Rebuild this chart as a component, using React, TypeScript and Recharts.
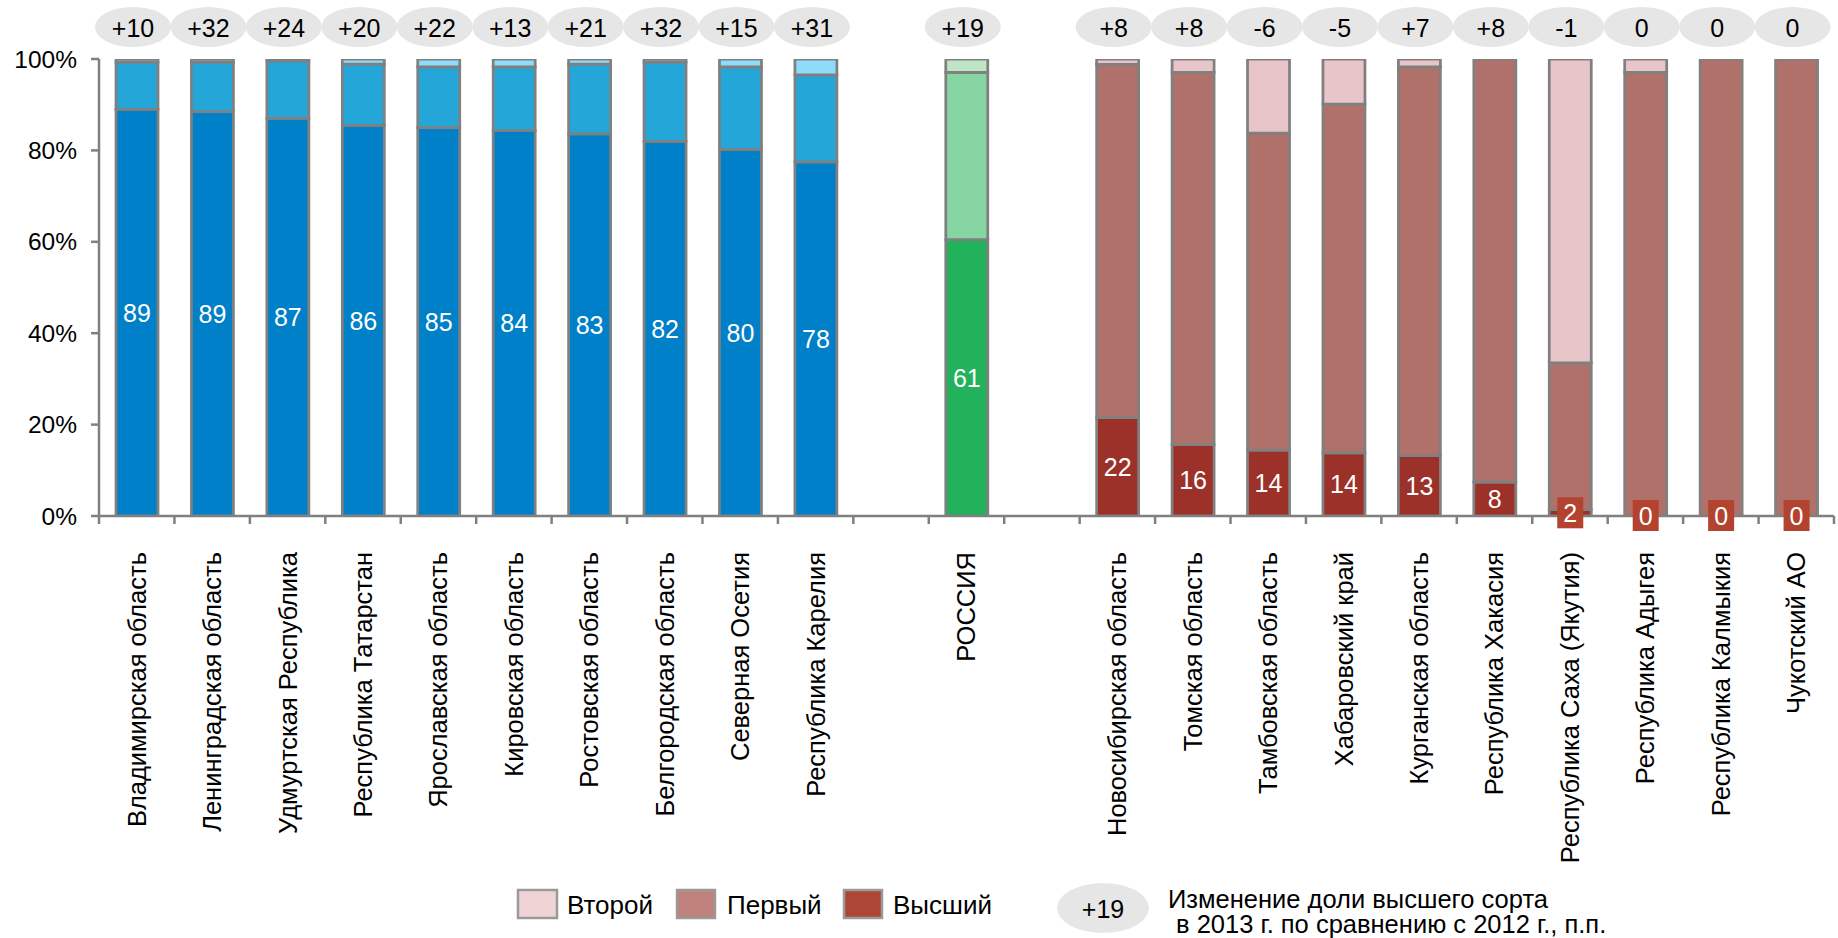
import { BarChart, Bar, XAxis, YAxis, Cell, LabelList } from "recharts";

const CATEGORIES = [
  "Владимирская область", "Ленинградская область", "Удмуртская Республика",
  "Республика Татарстан", "Ярославская область", "Кировская область",
  "Ростовская область", "Белгородская область", "Северная Осетия",
  "Республика Карелия", "", "РОССИЯ", "",
  "Новосибирская область", "Томская область", "Тамбовская область",
  "Хабаровский край", "Курганская область", "Республика Хакасия",
  "Республика Саха (Якутия)", "Республика Адыгея", "Республика Калмыкия",
  "Чукотский АО",
];

// which colour family each bar belongs to ("" = empty gap)
const GROUPS = [
  "best", "best", "best", "best", "best", "best", "best", "best", "best", "best",
  "", "russia", "",
  "worst", "worst", "worst", "worst", "worst", "worst", "worst", "worst", "worst", "worst",
];

// shares, % (высший / первый / второй сорт)
const TOP_GRADE = [89, 88.5, 87, 85.5, 85, 84.3, 83.6, 82, 80.2, 77.5, null, 60.5, null,
  21.5, 15.6, 14.4, 13.8, 13.2, 7.4, 1.4, 0, 0, 0];
const FIRST_GRADE = [10.3, 10.8, 12.6, 13.4, 13.3, 14, 15.3, 17.3, 18.1, 19, null, 36.6, null,
  77.3, 81.5, 69.4, 76.3, 85.1, 92.6, 32.1, 97.1, 100, 100];
const SECOND_GRADE = [0.7, 0.7, 0.4, 1.1, 1.7, 1.7, 1.1, 0.7, 1.7, 3.5, null, 2.9, null,
  1.2, 2.9, 16.2, 9.9, 1.7, 0, 66.5, 2.9, 0, 0];

const TOP_LABELS = ["89", "89", "87", "86", "85", "84", "83", "82", "80", "78", "", "61", "",
  "22", "16", "14", "14", "13", "8", "2", "0", "0", "0"];
const CHANGES = ["+10", "+32", "+24", "+20", "+22", "+13", "+21", "+32", "+15", "+31", "", "+19", "",
  "+8", "+8", "-6", "-5", "+7", "+8", "-1", "0", "0", "0"];

const Y_TICKS = [0, 20, 40, 60, 80, 100];

const PALETTE: Record<string, { top: string; first: string; second: string }> = {
  best: { top: "#0080C8", first: "#24A6D9", second: "#8FDBFA" },
  russia: { top: "#21B25B", first: "#86D5A3", second: "#BFE5C7" },
  worst: { top: "#9B3128", first: "#B1716B", second: "#E8C5C8" },
};

const W = 1838;
const H = 938;
const MARGIN = { top: 59, right: 4, bottom: 22, left: 0 };
const Y_AXIS_W = 99;
const X_AXIS_H = 400;
const SLOT = (W - MARGIN.left - MARGIN.right - Y_AXIS_W) / CATEGORIES.length;
const FONT = '"Liberation Sans", Arial, sans-serif';
const GREY = "#808080";

const data = CATEGORIES.map((name, i) => ({
  name,
  top: TOP_GRADE[i],
  first: FIRST_GRADE[i],
  second: SECOND_GRADE[i],
  overlay: TOP_GRADE[i] ?? 0,
  topLabel: TOP_LABELS[i],
  change: CHANGES[i],
  group: GROUPS[i],
}));

function XTick(props: any) {
  const { x, y, payload, index } = props;
  const half = SLOT / 2;
  return (
    <g>
      <line x1={x - half} x2={x - half} y1={y} y2={y + 8} stroke={GREY} strokeWidth={2.5} />
      {index === CATEGORIES.length - 1 && (
        <line x1={x + half} x2={x + half} y1={y} y2={y + 8} stroke={GREY} strokeWidth={2.5} />
      )}
      {payload.value && (
        <text
          transform={`translate(${x},${y + 36}) rotate(-90)`}
          textAnchor="end"
          dy="0.35em"
          fontSize={25.5}
          fill="#000"
        >
          {payload.value}
        </text>
      )}
    </g>
  );
}

function renderValue(props: any) {
  const { value } = props;
  if (value === "" || value == null) return null;
  const x = Number(props.x), y = Number(props.y);
  const w = Number(props.width), h = Number(props.height);
  const cx = x + w / 2;
  const cy = y + h / 2;
  const small = Number(value) < 5;
  return (
    <g>
      {small && <rect x={cx - 13} y={cy - 15.5} width={26} height={31} fill="#B3432F" />}
      <text x={cx} y={cy} textAnchor="middle" dominantBaseline="central" fontSize={25} fill="#fff">
        {value}
      </text>
    </g>
  );
}

function renderChange(props: any) {
  const { value } = props;
  if (value === "" || value == null) return null;
  const cx = Number(props.x) + Number(props.width) / 2 - 4;
  return (
    <g>
      <ellipse cx={cx} cy={27} rx={38} ry={20} fill="#E6E6E6" />
      <text x={cx} y={28} textAnchor="middle" dominantBaseline="central" fontSize={25} fill="#000">
        {value}
      </text>
    </g>
  );
}

function Legend() {
  return (
    <svg
      width={W}
      height={H}
      style={{ position: "absolute", left: 0, top: 0, pointerEvents: "none", fontFamily: FONT }}
    >
      <rect x={518} y={890} width={39} height={28} fill="#F0D3D5" stroke="#9A9A9A" strokeWidth={2.5} />
      <text x={567} y={905} dominantBaseline="central" fontSize={26} fill="#000">Второй</text>
      <rect x={677} y={890} width={38} height={28} fill="#C0827C" stroke="#9A9A9A" strokeWidth={2.5} />
      <text x={727} y={905} dominantBaseline="central" fontSize={26} fill="#000">Первый</text>
      <rect x={844} y={890} width={38} height={28} fill="#AE4636" stroke="#9A9A9A" strokeWidth={2.5} />
      <text x={893} y={905} dominantBaseline="central" fontSize={26} fill="#000">Высший</text>
      <ellipse cx={1103} cy={908} rx={46} ry={25} fill="#E6E6E6" />
      <text x={1103} y={909} textAnchor="middle" dominantBaseline="central" fontSize={25} fill="#000">+19</text>
      <text x={1168} y={899} dominantBaseline="central" fontSize={25.5} fill="#000">
        Изменение доли высшего сорта
      </text>
      <text x={1176} y={924} dominantBaseline="central" fontSize={25.5} fill="#000">
        в 2013 г. по сравнению с 2012 г., п.п.
      </text>
    </svg>
  );
}

export default function App() {
  return (
    <div style={{ position: "absolute", left: 0, top: 0, width: W, height: H, background: "#fff" }}>
      <BarChart width={W} height={H} data={data} margin={MARGIN} style={{ fontFamily: FONT }}>
        <XAxis
          dataKey="name"
          interval={0}
          height={X_AXIS_H}
          tickLine={false}
          tickSize={0}
          tickMargin={0}
          axisLine={{ stroke: GREY, strokeWidth: 2.5 }}
          tick={XTick}
        />
        <XAxis xAxisId="ov" dataKey="name" hide />
        <YAxis
          width={Y_AXIS_W}
          domain={[0, 100]}
          allowDataOverflow
          ticks={Y_TICKS}
          tickFormatter={(v) => `${v}%`}
          tick={{ fill: "#000", fontSize: 24.5 }}
          tickSize={8}
          tickMargin={14}
          axisLine={{ stroke: GREY, strokeWidth: 2.5 }}
          tickLine={{ stroke: GREY, strokeWidth: 2.5 }}
        />
        <Bar dataKey="top" stackId="s" barSize={42} stroke={GREY} strokeWidth={2.75} isAnimationActive={false}>
          {data.map((d, i) => (
            <Cell key={i} fill={PALETTE[d.group]?.top ?? "none"} />
          ))}
        </Bar>
        <Bar dataKey="first" stackId="s" barSize={42} stroke={GREY} strokeWidth={2.75} isAnimationActive={false}>
          {data.map((d, i) => (
            <Cell key={i} fill={PALETTE[d.group]?.first ?? "none"} />
          ))}
        </Bar>
        <Bar dataKey="second" stackId="s" barSize={42} stroke={GREY} strokeWidth={2.75} isAnimationActive={false}>
          {data.map((d, i) => (
            <Cell key={i} fill={PALETTE[d.group]?.second ?? "none"} />
          ))}
        </Bar>
        <Bar
          xAxisId="ov"
          dataKey="overlay"
          barSize={42}
          minPointSize={1}
          fill="none"
          stroke="none"
          isAnimationActive={false}
        >
          <LabelList dataKey="topLabel" content={renderValue} />
          <LabelList dataKey="change" content={renderChange} />
        </Bar>
      </BarChart>
      <Legend />
    </div>
  );
}
